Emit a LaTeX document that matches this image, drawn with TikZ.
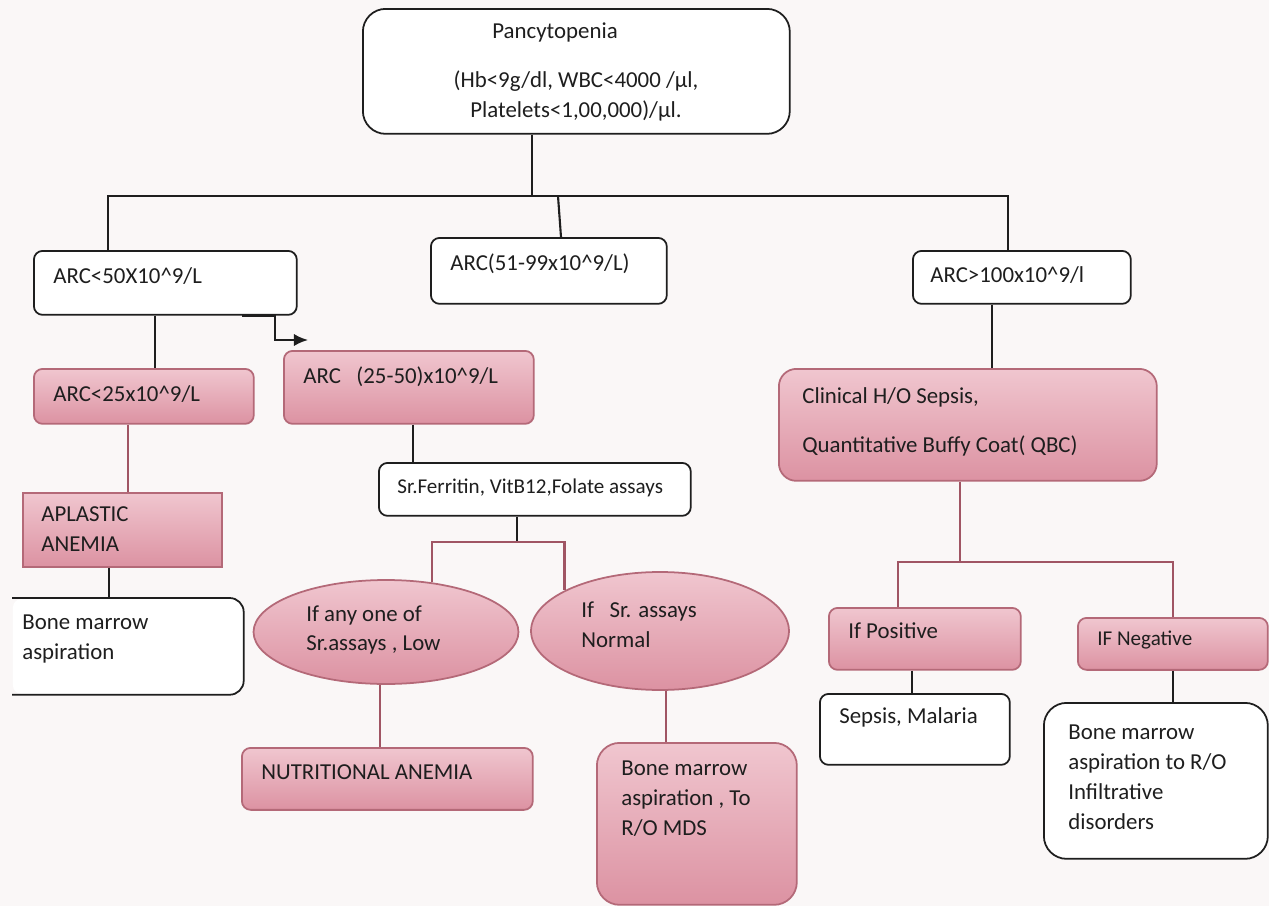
\documentclass[tikz,border=0pt]{standalone}
\usepackage{fontspec}
\setmainfont{Carlito}
\usetikzlibrary{shapes.geometric,arrows.meta}

\definecolor{bgcol}{RGB}{250,247,247}
\definecolor{pinktop}{RGB}{240,198,207}
\definecolor{pinkbot}{RGB}{220,146,162}
\definecolor{pinkline}{RGB}{180,105,120}
\definecolor{mauve}{RGB}{160,85,100}
\definecolor{ink}{RGB}{30,30,30}

\tikzset{
  wbox/.style={draw=ink,line width=1pt,fill=white,rounded corners=5pt,anchor=north west,inner sep=0pt},
  pbox/.style={draw=pinkline,line width=1pt,top color=pinktop,bottom color=pinkbot,rounded corners=5pt,anchor=north west,inner sep=0pt},
  pell/.style={ellipse,draw=pinkline,line width=1pt,top color=pinktop,bottom color=pinkbot,inner sep=0pt},
  txt/.style={anchor=west,inner sep=0pt,align=left,text=ink,font=\fontsize{13}{17}\selectfont},
  small/.style={font=\fontsize{12}{15}\selectfont},
  conn/.style={draw=ink,line width=1.2pt},
  mconn/.style={draw=mauve,line width=1.2pt}
}

\begin{document}
\begin{tikzpicture}[x=0.02cm,y=-0.02cm]
  \fill[bgcol] (0,0) rectangle (1269,906);
  \useasboundingbox (0,0) rectangle (1269,906);

  % boxes
  \node[wbox,rounded corners=13pt,minimum width=8.54cm,minimum height=2.5cm] (panc) at (362,8) {};
  \node[wbox,minimum width=5.26cm,minimum height=1.28cm] (arc50) at (33,250) {};
  \node[wbox,minimum width=4.72cm,minimum height=1.32cm] (arc99) at (430,237) {};
  \node[wbox,minimum width=4.36cm,minimum height=1.06cm] (arc100) at (912,250) {};
  \node[pbox,minimum width=4.4cm,minimum height=1.1cm] (arc25) at (33,368) {};
  \node[pbox,minimum width=5cm,minimum height=1.46cm] (arc2550) at (283,350) {};
  \node[wbox,minimum width=6.24cm,minimum height=1.06cm] (assay) at (378,462) {};
  \node[pbox,sharp corners,minimum width=3.98cm,minimum height=1.48cm] (aplastic) at (22,492) {};
  \node[wbox,draw=none,minimum width=4.6cm,minimum height=1.9cm] (bm1) at (12,598) {};
  \node[pell,minimum width=5.3cm,minimum height=2.08cm] (low) at (386,632) {};
  \node[pell,minimum width=5.16cm,minimum height=2.36cm] (normal) at (660,631) {};
  \node[pbox,minimum width=5.82cm,minimum height=1.24cm] (nutr) at (241,747) {};
  \node[pbox,rounded corners=13pt,minimum width=4cm,minimum height=3.24cm] (mds) at (596,742) {};
  \node[pbox,rounded corners=10pt,minimum width=7.56cm,minimum height=2.24cm] (clin) at (778,368) {};
  \node[pbox,minimum width=3.84cm,minimum height=1.24cm] (pos) at (828,607) {};
  \node[pbox,minimum width=3.8cm,minimum height=1.04cm] (neg) at (1077,617) {};
  \node[wbox,minimum width=3.8cm,minimum height=1.42cm] (sepsis) at (819,693) {};
  \node[wbox,rounded corners=13pt,minimum width=4.48cm,minimum height=3.12cm] (bm2) at (1043,702) {};
  \draw[ink,line width=1pt,rounded corners=8pt] (bm1.north west) -- (bm1.north east) -- (bm1.south east) -- (bm1.south west);

  % texts
  \node[txt] (panct) at (492,32) {Pancytopenia};
  \node[txt,anchor=center,align=center] (pancv) at (576,96) {(Hb<9g/dl, WBC<4000 /µl,\\Platelets<1,00,000)/µl.};
  \node[txt] (arc50t) at (53,276) {ARC<50X10\textasciicircum 9/L};
  \node[txt] (arc99t) at (450,264) {ARC(51-99x10\textasciicircum 9/L)};
  \node[txt] (arc100t) at (930,275) {ARC>100x10\textasciicircum 9/l};
  \node[txt] (arc25t) at (53,394) {ARC<25x10\textasciicircum 9/L};
  \node[txt] (arc2550t) at (303,377) {ARC~~~(25-50)x10\textasciicircum 9/L};
  \node[txt,small] (assayt) at (397,488) {Sr.Ferritin, VitB12,Folate assays};
  \node[txt] (aplastict) at (41,529) {APLASTIC\\ANEMIA};
  \node[txt] (bm1t) at (22,639) {Bone marrow\\aspiration};
  \node[txt] (lowt) at (306,630) {If any one of\\Sr.assays , Low};
  \node[txt] (normalt) at (581,625) {If~~~Sr. assays\\Normal};
  \node[txt] (nutrt) at (261,772) {NUTRITIONAL ANEMIA};
  \node[txt] (mdst) at (621,799) {Bone marrow\\aspiration , To\\R/O MDS};
  \node[txt] (clint) at (802,422) {Clinical H/O Sepsis,\\[11pt]Quantitative Buffy Coat( QBC)};
  \node[txt] (post) at (848,631) {If Positive};
  \node[txt,small] (negt) at (1097,640) {IF Negative};
  \node[txt] (sepsist) at (839,717) {Sepsis, Malaria};
  \node[txt] (bm2t) at (1068,777) {Bone marrow\\aspiration to R/O\\Infiltrative\\disorders};

  % connectors
  \coordinate (j1) at (532,196);
  \coordinate (j2) at (558,196);
  \coordinate (j3) at (517,542);
  \coordinate (j4) at (960,562);
  \coordinate (tip) at (308,340);
  \draw[conn] (panc.south -| j1) -- (j1);
  \draw[conn] (arc50.north -| 108,0) |- (j1) -| (arc100.north -| 1008,0);
  \draw[conn] (j2) -- (arc99.north -| 561,0);
  \draw[conn] (arc50.south -| 155,0) -- (arc25.north -| 155,0);
  \draw[conn,-{Latex[length=8pt,width=7pt]}] (arc50.south -| 242,0) -| (275,340) -- (tip);
  \draw[mconn] (arc25.south -| 128,0) -- (aplastic.north -| 128,0);
  \draw[conn] (aplastic.south -| 109,0) -- (bm1.north -| 109,0);
  \draw[conn] (arc2550.south -| 413,0) -- (assay.north -| 413,0);
  \draw[conn] (assay.south -| j3) -- (j3);
  \draw[mconn] (low.47) |- (j3) -| (normal.157);
  \draw[mconn] (low.south -| 380,0) -- (nutr.north -| 380,0);
  \draw[mconn] (normal.south -| 666,0) -- (mds.north -| 666,0);
  \draw[conn] (arc100.south -| 992,0) -- (clin.north -| 992,0);
  \draw[mconn] (clin.south -| j4) -- (j4);
  \draw[mconn] (pos.north -| 898,0) |- (j4) -| (neg.north -| 1173,0);
  \draw[conn] (pos.south -| 912,0) -- (sepsis.north -| 912,0);
  \draw[conn] (neg.south -| 1173,0) -- (bm2.north -| 1173,0);
\end{tikzpicture}
\end{document}
